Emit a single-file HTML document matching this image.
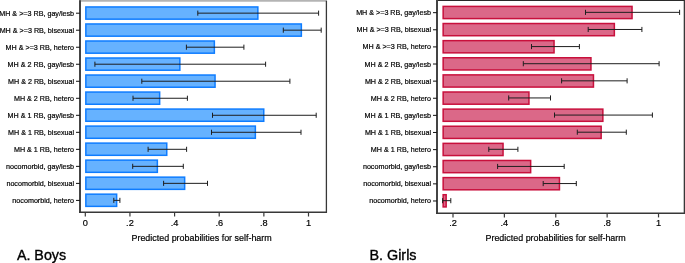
<!DOCTYPE html>
<html><head><meta charset="utf-8"><style>
html,body{margin:0;padding:0;background:#fff;}
svg{display:block;will-change:transform;}
text{font-family:"Liberation Sans",sans-serif;fill:#000;stroke:#000;stroke-width:0.2px;}
</style></head><body>
<svg width="685" height="263" viewBox="0 0 685 263">
<rect width="685" height="263" fill="#fff"/>
<line x1="79" y1="0.85" x2="327.04999999999995" y2="0.85" stroke="#b4b4b4" stroke-width="1.7"/>
<line x1="326.4" y1="0.85" x2="326.4" y2="212.3" stroke="#383838" stroke-width="1.3"/>
<rect x="85.85" y="6.95" width="172.00" height="12.20" fill="#66b2ff" stroke="#0e7cff" stroke-width="1.5"/>
<rect x="85.85" y="23.97" width="215.50" height="12.20" fill="#66b2ff" stroke="#0e7cff" stroke-width="1.5"/>
<rect x="85.85" y="40.99" width="128.50" height="12.20" fill="#66b2ff" stroke="#0e7cff" stroke-width="1.5"/>
<rect x="85.85" y="58.01" width="94.00" height="12.20" fill="#66b2ff" stroke="#0e7cff" stroke-width="1.5"/>
<rect x="85.85" y="75.03" width="129.20" height="12.20" fill="#66b2ff" stroke="#0e7cff" stroke-width="1.5"/>
<rect x="85.85" y="92.05" width="73.80" height="12.20" fill="#66b2ff" stroke="#0e7cff" stroke-width="1.5"/>
<rect x="85.85" y="109.07" width="177.90" height="12.20" fill="#66b2ff" stroke="#0e7cff" stroke-width="1.5"/>
<rect x="85.85" y="126.09" width="169.50" height="12.20" fill="#66b2ff" stroke="#0e7cff" stroke-width="1.5"/>
<rect x="85.85" y="143.11" width="80.90" height="12.20" fill="#66b2ff" stroke="#0e7cff" stroke-width="1.5"/>
<rect x="85.85" y="160.13" width="71.50" height="12.20" fill="#66b2ff" stroke="#0e7cff" stroke-width="1.5"/>
<rect x="85.85" y="177.15" width="98.80" height="12.20" fill="#66b2ff" stroke="#0e7cff" stroke-width="1.5"/>
<rect x="85.85" y="194.17" width="30.80" height="12.20" fill="#66b2ff" stroke="#0e7cff" stroke-width="1.5"/>
<path d="M197.80 13.15H318.60M197.80 10.60V15.70M318.60 10.60V15.70" stroke="#1e1e1e" stroke-width="1.0" fill="none"/>
<path d="M283.30 30.17H321.20M283.30 27.62V32.72M321.20 27.62V32.72" stroke="#1e1e1e" stroke-width="1.0" fill="none"/>
<path d="M186.40 47.19H243.90M186.40 44.64V49.74M243.90 44.64V49.74" stroke="#1e1e1e" stroke-width="1.0" fill="none"/>
<path d="M94.90 64.21H265.60M94.90 61.66V66.76M265.60 61.66V66.76" stroke="#1e1e1e" stroke-width="1.0" fill="none"/>
<path d="M141.80 81.23H289.90M141.80 78.68V83.78M289.90 78.68V83.78" stroke="#1e1e1e" stroke-width="1.0" fill="none"/>
<path d="M133.00 98.25H187.40M133.00 95.70V100.80M187.40 95.70V100.80" stroke="#1e1e1e" stroke-width="1.0" fill="none"/>
<path d="M212.50 115.27H316.20M212.50 112.72V117.82M316.20 112.72V117.82" stroke="#1e1e1e" stroke-width="1.0" fill="none"/>
<path d="M211.50 132.29H301.00M211.50 129.74V134.84M301.00 129.74V134.84" stroke="#1e1e1e" stroke-width="1.0" fill="none"/>
<path d="M148.10 149.31H186.60M148.10 146.76V151.86M186.60 146.76V151.86" stroke="#1e1e1e" stroke-width="1.0" fill="none"/>
<path d="M132.70 166.33H183.30M132.70 163.78V168.88M183.30 163.78V168.88" stroke="#1e1e1e" stroke-width="1.0" fill="none"/>
<path d="M163.60 183.35H207.50M163.60 180.80V185.90M207.50 180.80V185.90" stroke="#1e1e1e" stroke-width="1.0" fill="none"/>
<path d="M113.80 200.37H119.90M113.80 197.82V202.92M119.90 197.82V202.92" stroke="#1e1e1e" stroke-width="1.0" fill="none"/>
<line x1="80" y1="0.35" x2="80" y2="213.10000000000002" stroke="#444444" stroke-width="2"/>
<line x1="76.0" y1="13.20" x2="80" y2="13.20" stroke="#1a1a1a" stroke-width="1.05"/>
<text transform="translate(74.1 15.70) scale(0.945,1)" text-anchor="end" font-size="7.6">MH &amp; &gt;=3 RB, gay/lesb</text>
<line x1="76.0" y1="30.22" x2="80" y2="30.22" stroke="#1a1a1a" stroke-width="1.05"/>
<text transform="translate(74.1 32.72) scale(0.945,1)" text-anchor="end" font-size="7.6">MH &amp; &gt;=3 RB, bisexual</text>
<line x1="76.0" y1="47.24" x2="80" y2="47.24" stroke="#1a1a1a" stroke-width="1.05"/>
<text transform="translate(74.1 49.74) scale(0.945,1)" text-anchor="end" font-size="7.6">MH &amp; &gt;=3 RB, hetero</text>
<line x1="76.0" y1="64.26" x2="80" y2="64.26" stroke="#1a1a1a" stroke-width="1.05"/>
<text transform="translate(74.1 66.76) scale(0.945,1)" text-anchor="end" font-size="7.6">MH &amp; 2 RB, gay/lesb</text>
<line x1="76.0" y1="81.28" x2="80" y2="81.28" stroke="#1a1a1a" stroke-width="1.05"/>
<text transform="translate(74.1 83.78) scale(0.945,1)" text-anchor="end" font-size="7.6">MH &amp; 2 RB, bisexual</text>
<line x1="76.0" y1="98.30" x2="80" y2="98.30" stroke="#1a1a1a" stroke-width="1.05"/>
<text transform="translate(74.1 100.80) scale(0.945,1)" text-anchor="end" font-size="7.6">MH &amp; 2 RB, hetero</text>
<line x1="76.0" y1="115.32" x2="80" y2="115.32" stroke="#1a1a1a" stroke-width="1.05"/>
<text transform="translate(74.1 117.82) scale(0.945,1)" text-anchor="end" font-size="7.6">MH &amp; 1 RB, gay/lesb</text>
<line x1="76.0" y1="132.34" x2="80" y2="132.34" stroke="#1a1a1a" stroke-width="1.05"/>
<text transform="translate(74.1 134.84) scale(0.945,1)" text-anchor="end" font-size="7.6">MH &amp; 1 RB, bisexual</text>
<line x1="76.0" y1="149.36" x2="80" y2="149.36" stroke="#1a1a1a" stroke-width="1.05"/>
<text transform="translate(74.1 151.86) scale(0.945,1)" text-anchor="end" font-size="7.6">MH &amp; 1 RB, hetero</text>
<line x1="76.0" y1="166.38" x2="80" y2="166.38" stroke="#1a1a1a" stroke-width="1.05"/>
<text transform="translate(74.1 168.88) scale(0.945,1)" text-anchor="end" font-size="7.6">nocomorbid, gay/lesb</text>
<line x1="76.0" y1="183.40" x2="80" y2="183.40" stroke="#1a1a1a" stroke-width="1.05"/>
<text transform="translate(74.1 185.90) scale(0.945,1)" text-anchor="end" font-size="7.6">nocomorbid, bisexual</text>
<line x1="76.0" y1="200.42" x2="80" y2="200.42" stroke="#1a1a1a" stroke-width="1.05"/>
<text transform="translate(74.1 202.92) scale(0.945,1)" text-anchor="end" font-size="7.6">nocomorbid, hetero</text>
<line x1="79" y1="212.3" x2="327.04999999999995" y2="212.3" stroke="#383838" stroke-width="1.4"/>
<line x1="85.30" y1="212.3" x2="85.30" y2="216.5" stroke="#383838" stroke-width="1.2"/>
<text x="85.30" y="225.8" text-anchor="middle" font-size="9.2">0</text>
<line x1="129.94" y1="212.3" x2="129.94" y2="216.5" stroke="#383838" stroke-width="1.2"/>
<text x="129.94" y="225.8" text-anchor="middle" font-size="9.2">.2</text>
<line x1="174.58" y1="212.3" x2="174.58" y2="216.5" stroke="#383838" stroke-width="1.2"/>
<text x="174.58" y="225.8" text-anchor="middle" font-size="9.2">.4</text>
<line x1="219.22" y1="212.3" x2="219.22" y2="216.5" stroke="#383838" stroke-width="1.2"/>
<text x="219.22" y="225.8" text-anchor="middle" font-size="9.2">.6</text>
<line x1="263.86" y1="212.3" x2="263.86" y2="216.5" stroke="#383838" stroke-width="1.2"/>
<text x="263.86" y="225.8" text-anchor="middle" font-size="9.2">.8</text>
<line x1="308.50" y1="212.3" x2="308.50" y2="216.5" stroke="#383838" stroke-width="1.2"/>
<text x="308.50" y="225.8" text-anchor="middle" font-size="9.2">1</text>
<text transform="translate(131.5 240.7) scale(0.955,1)" font-size="9.35">Predicted probabilities for self-harm</text>
<text transform="translate(16.9 259.8) scale(0.98,1)" font-size="14.6" style="stroke-width:0.35px">A. Boys</text>
<line x1="436" y1="0.5" x2="685.0" y2="0.5" stroke="#2a2a2a" stroke-width="1.0"/>
<line x1="684.35" y1="0.5" x2="684.35" y2="213.2" stroke="#383838" stroke-width="1.3"/>
<rect x="443.15" y="6.40" width="188.90" height="12.20" fill="#db6888" stroke="#c8103c" stroke-width="1.5"/>
<rect x="443.15" y="23.52" width="171.20" height="12.20" fill="#db6888" stroke="#c8103c" stroke-width="1.5"/>
<rect x="443.15" y="40.64" width="110.90" height="12.20" fill="#db6888" stroke="#c8103c" stroke-width="1.5"/>
<rect x="443.15" y="57.76" width="147.80" height="12.20" fill="#db6888" stroke="#c8103c" stroke-width="1.5"/>
<rect x="443.15" y="74.88" width="150.30" height="12.20" fill="#db6888" stroke="#c8103c" stroke-width="1.5"/>
<rect x="443.15" y="92.00" width="85.80" height="12.20" fill="#db6888" stroke="#c8103c" stroke-width="1.5"/>
<rect x="443.15" y="109.12" width="159.70" height="12.20" fill="#db6888" stroke="#c8103c" stroke-width="1.5"/>
<rect x="443.15" y="126.24" width="158.00" height="12.20" fill="#db6888" stroke="#c8103c" stroke-width="1.5"/>
<rect x="443.15" y="143.36" width="59.90" height="12.20" fill="#db6888" stroke="#c8103c" stroke-width="1.5"/>
<rect x="443.15" y="160.48" width="87.50" height="12.20" fill="#db6888" stroke="#c8103c" stroke-width="1.5"/>
<rect x="443.15" y="177.60" width="116.30" height="12.20" fill="#db6888" stroke="#c8103c" stroke-width="1.5"/>
<rect x="443.15" y="194.72" width="3.00" height="12.20" fill="#db6888" stroke="#c8103c" stroke-width="1.5"/>
<path d="M585.50 12.35H679.60M585.50 9.80V14.90M679.60 9.80V14.90" stroke="#1e1e1e" stroke-width="1.0" fill="none"/>
<path d="M588.20 29.47H641.90M588.20 26.92V32.02M641.90 26.92V32.02" stroke="#1e1e1e" stroke-width="1.0" fill="none"/>
<path d="M531.50 46.59H579.40M531.50 44.04V49.14M579.40 44.04V49.14" stroke="#1e1e1e" stroke-width="1.0" fill="none"/>
<path d="M523.30 63.71H659.10M523.30 61.16V66.26M659.10 61.16V66.26" stroke="#1e1e1e" stroke-width="1.0" fill="none"/>
<path d="M561.60 80.83H627.10M561.60 78.28V83.38M627.10 78.28V83.38" stroke="#1e1e1e" stroke-width="1.0" fill="none"/>
<path d="M508.70 97.95H550.50M508.70 95.40V100.50M550.50 95.40V100.50" stroke="#1e1e1e" stroke-width="1.0" fill="none"/>
<path d="M554.50 115.07H652.40M554.50 112.52V117.62M652.40 112.52V117.62" stroke="#1e1e1e" stroke-width="1.0" fill="none"/>
<path d="M577.30 132.19H626.30M577.30 129.64V134.74M626.30 129.64V134.74" stroke="#1e1e1e" stroke-width="1.0" fill="none"/>
<path d="M488.80 149.31H517.90M488.80 146.76V151.86M517.90 146.76V151.86" stroke="#1e1e1e" stroke-width="1.0" fill="none"/>
<path d="M497.60 166.43H564.20M497.60 163.88V168.98M564.20 163.88V168.98" stroke="#1e1e1e" stroke-width="1.0" fill="none"/>
<path d="M543.20 183.55H576.30M543.20 181.00V186.10M576.30 181.00V186.10" stroke="#1e1e1e" stroke-width="1.0" fill="none"/>
<path d="M442.60 200.67H450.80M442.60 198.12V203.22M450.80 198.12V203.22" stroke="#1e1e1e" stroke-width="1.0" fill="none"/>
<line x1="437" y1="0.0" x2="437" y2="214.0" stroke="#444444" stroke-width="2"/>
<line x1="433.0" y1="12.65" x2="437" y2="12.65" stroke="#1a1a1a" stroke-width="1.05"/>
<text transform="translate(431.0 15.15) scale(0.945,1)" text-anchor="end" font-size="7.6">MH &amp; &gt;=3 RB, gay/lesb</text>
<line x1="433.0" y1="29.77" x2="437" y2="29.77" stroke="#1a1a1a" stroke-width="1.05"/>
<text transform="translate(431.0 32.27) scale(0.945,1)" text-anchor="end" font-size="7.6">MH &amp; &gt;=3 RB, bisexual</text>
<line x1="433.0" y1="46.89" x2="437" y2="46.89" stroke="#1a1a1a" stroke-width="1.05"/>
<text transform="translate(431.0 49.39) scale(0.945,1)" text-anchor="end" font-size="7.6">MH &amp; &gt;=3 RB, hetero</text>
<line x1="433.0" y1="64.01" x2="437" y2="64.01" stroke="#1a1a1a" stroke-width="1.05"/>
<text transform="translate(431.0 66.51) scale(0.945,1)" text-anchor="end" font-size="7.6">MH &amp; 2 RB, gay/lesb</text>
<line x1="433.0" y1="81.13" x2="437" y2="81.13" stroke="#1a1a1a" stroke-width="1.05"/>
<text transform="translate(431.0 83.63) scale(0.945,1)" text-anchor="end" font-size="7.6">MH &amp; 2 RB, bisexual</text>
<line x1="433.0" y1="98.25" x2="437" y2="98.25" stroke="#1a1a1a" stroke-width="1.05"/>
<text transform="translate(431.0 100.75) scale(0.945,1)" text-anchor="end" font-size="7.6">MH &amp; 2 RB, hetero</text>
<line x1="433.0" y1="115.37" x2="437" y2="115.37" stroke="#1a1a1a" stroke-width="1.05"/>
<text transform="translate(431.0 117.87) scale(0.945,1)" text-anchor="end" font-size="7.6">MH &amp; 1 RB, gay/lesb</text>
<line x1="433.0" y1="132.49" x2="437" y2="132.49" stroke="#1a1a1a" stroke-width="1.05"/>
<text transform="translate(431.0 134.99) scale(0.945,1)" text-anchor="end" font-size="7.6">MH &amp; 1 RB, bisexual</text>
<line x1="433.0" y1="149.61" x2="437" y2="149.61" stroke="#1a1a1a" stroke-width="1.05"/>
<text transform="translate(431.0 152.11) scale(0.945,1)" text-anchor="end" font-size="7.6">MH &amp; 1 RB, hetero</text>
<line x1="433.0" y1="166.73" x2="437" y2="166.73" stroke="#1a1a1a" stroke-width="1.05"/>
<text transform="translate(431.0 169.23) scale(0.945,1)" text-anchor="end" font-size="7.6">nocomorbid, gay/lesb</text>
<line x1="433.0" y1="183.85" x2="437" y2="183.85" stroke="#1a1a1a" stroke-width="1.05"/>
<text transform="translate(431.0 186.35) scale(0.945,1)" text-anchor="end" font-size="7.6">nocomorbid, bisexual</text>
<line x1="433.0" y1="200.97" x2="437" y2="200.97" stroke="#1a1a1a" stroke-width="1.05"/>
<text transform="translate(431.0 203.47) scale(0.945,1)" text-anchor="end" font-size="7.6">nocomorbid, hetero</text>
<line x1="436" y1="213.2" x2="685.0" y2="213.2" stroke="#383838" stroke-width="1.4"/>
<line x1="453.00" y1="213.2" x2="453.00" y2="217.39999999999998" stroke="#383838" stroke-width="1.2"/>
<text x="453.00" y="226.2" text-anchor="middle" font-size="9.2">.2</text>
<line x1="504.38" y1="213.2" x2="504.38" y2="217.39999999999998" stroke="#383838" stroke-width="1.2"/>
<text x="504.38" y="226.2" text-anchor="middle" font-size="9.2">.4</text>
<line x1="555.76" y1="213.2" x2="555.76" y2="217.39999999999998" stroke="#383838" stroke-width="1.2"/>
<text x="555.76" y="226.2" text-anchor="middle" font-size="9.2">.6</text>
<line x1="607.14" y1="213.2" x2="607.14" y2="217.39999999999998" stroke="#383838" stroke-width="1.2"/>
<text x="607.14" y="226.2" text-anchor="middle" font-size="9.2">.8</text>
<line x1="658.52" y1="213.2" x2="658.52" y2="217.39999999999998" stroke="#383838" stroke-width="1.2"/>
<text x="658.52" y="226.2" text-anchor="middle" font-size="9.2">1</text>
<text transform="translate(485.5 240.5) scale(0.955,1)" font-size="9.35">Predicted probabilities for self-harm</text>
<text transform="translate(369.4 259.8) scale(0.985,1)" font-size="14.6" style="stroke-width:0.35px">B. Girls</text>
</svg>
</body></html>
